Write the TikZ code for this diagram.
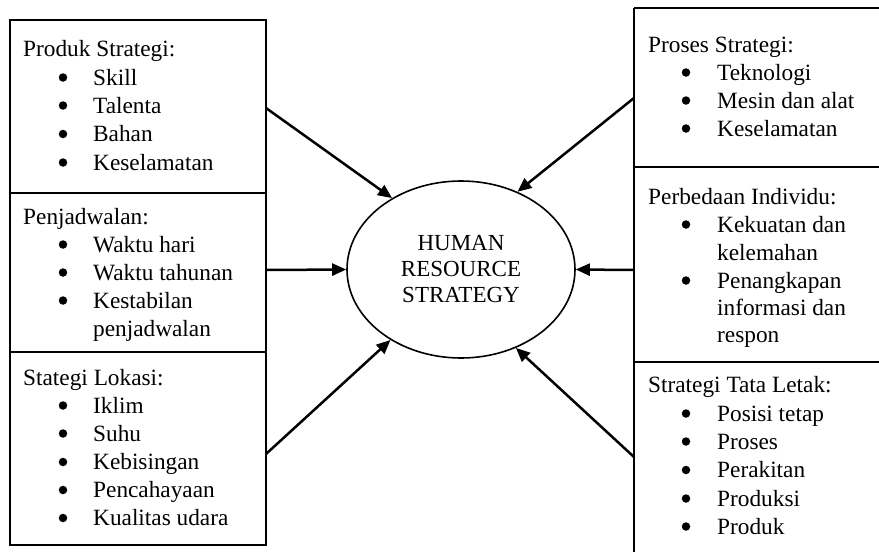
\documentclass[tikz,border=0pt]{standalone}
\usepackage{fontspec}
\setmainfont{Liberation Serif}
\usetikzlibrary{arrows.meta,shapes.geometric}
\begin{document}
\begin{tikzpicture}[x=1pt,y=-1pt,
  txt/.style={anchor=base west,inner sep=0pt,font=\fontsize{23.3}{28}\selectfont},
  bul/.style={circle,fill,inner sep=0pt,minimum size=8.5pt,yshift=7.5pt},
  boxline/.style={line width=2pt},
  conn/.style={line width=2.5pt,-{Triangle[length=14pt,width=12pt]}},
  hub/.style={ellipse,draw,line width=1.6pt,minimum width=228pt,minimum height=177pt,inner sep=0pt,
    align=center,font=\fontsize{23}{26}\selectfont}]
\useasboundingbox (0,0) rectangle (879,552);
\fill[white] (0,0) rectangle (879,552);

% left column of boxes
\draw[boxline] (10,20) rectangle (266,545);
\draw[boxline] (10,193) -- (266,193);
\draw[boxline] (10,352) -- (266,352);
\coordinate (L1) at (266,108);
\coordinate (L2) at (266,270);
\coordinate (L3) at (266,454);

% right column of boxes (runs past the page edge)
\draw[boxline] (634,8) -- (890,8);
\draw[boxline] (634,8) -- (634,560);
\draw[boxline] (634,167) -- (890,167);
\draw[boxline] (634,362) -- (890,362);
\coordinate (R1) at (634,98);
\coordinate (R2) at (634,270);
\coordinate (R3) at (634,457);

% central ellipse
\node[hub] (hrs) at (461,269.5) {HUMAN\\RESOURCE\\STRATEGY};

% connectors
\draw[conn] (L1) -- (hrs.134);
\draw[conn] (L2) -- (hrs.west);
\draw[conn] (L3) -- (hrs.225);
\draw[conn] (R1) -- (hrs.54);
\draw[conn] (R2) -- (hrs.east);
\draw[conn] (R3) -- (hrs.305);

% Produk Strategi
\node[txt] (a0) at (23,56) {Produk Strategi:};
\node[bul] (ab1) at (63,85) {}; \node[txt] (a1) at (93,85) {Skill};
\node[bul] (ab2) at (63,113) {}; \node[txt] (a2) at (93,113) {Talenta};
\node[bul] (ab3) at (63,141.5) {}; \node[txt] (a3) at (93,141.5) {Bahan};
\node[bul] (ab4) at (63,170) {}; \node[txt] (a4) at (93,170) {Keselamatan};

% Penjadwalan
\node[txt] (b0) at (23,224) {Penjadwalan:};
\node[bul] (bb1) at (63,252) {}; \node[txt] (b1) at (93,252) {Waktu hari};
\node[bul] (bb2) at (63,280) {}; \node[txt] (b2) at (93,280) {Waktu tahunan};
\node[bul] (bb3) at (63,308) {}; \node[txt] (b3) at (93,308) {Kestabilan};
\node[txt] (b4) at (93,336) {penjadwalan};

% Stategi Lokasi
\node[txt] (c0) at (23,385) {Stategi Lokasi:};
\node[bul] (cb1) at (63,413) {}; \node[txt] (c1) at (93,413) {Iklim};
\node[bul] (cb2) at (63,441) {}; \node[txt] (c2) at (93,441) {Suhu};
\node[bul] (cb3) at (63,469.5) {}; \node[txt] (c3) at (93,469.5) {Kebisingan};
\node[bul] (cb4) at (63,497.5) {}; \node[txt] (c4) at (93,497.5) {Pencahayaan};
\node[bul] (cb5) at (63,525.5) {}; \node[txt] (c5) at (93,525.5) {Kualitas udara};

% Proses Strategi
\node[txt] (d0) at (648,52) {Proses Strategi:};
\node[bul] (db1) at (686,80) {}; \node[txt] (d1) at (717,80) {Teknologi};
\node[bul] (db2) at (686,108) {}; \node[txt] (d2) at (717,108) {Mesin dan alat};
\node[bul] (db3) at (686,136) {}; \node[txt] (d3) at (717,136) {Keselamatan};

% Perbedaan Individu
\node[txt] (e0) at (648,204) {Perbedaan Individu:};
\node[bul] (eb1) at (686,232) {}; \node[txt] (e1) at (717,232) {Kekuatan dan};
\node[txt] (e2) at (717,260) {kelemahan};
\node[bul] (eb3) at (686,288) {}; \node[txt] (e3) at (717,288) {Penangkapan};
\node[txt] (e4) at (717,315) {informasi dan};
\node[txt] (e5) at (717,342) {respon};

% Strategi Tata Letak
\node[txt] (f0) at (648,392) {Strategi Tata Letak:};
\node[bul] (fb1) at (686,421) {}; \node[txt] (f1) at (717,421) {Posisi tetap};
\node[bul] (fb2) at (686,449) {}; \node[txt] (f2) at (717,449) {Proses};
\node[bul] (fb3) at (686,477.5) {}; \node[txt] (f3) at (717,477.5) {Perakitan};
\node[bul] (fb4) at (686,506) {}; \node[txt] (f4) at (717,506) {Produksi};
\node[bul] (fb5) at (686,534) {}; \node[txt] (f5) at (717,534) {Produk};
\end{tikzpicture}
\end{document}
